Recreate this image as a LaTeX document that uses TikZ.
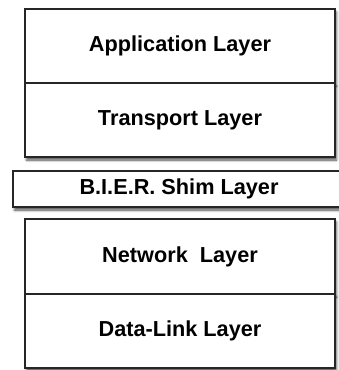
\documentclass[tikz,border=0pt]{standalone}
\usepackage{fontspec}
\setmainfont{Liberation Sans}
\usetikzlibrary{shadows.blur}

\begin{document}
\begin{tikzpicture}[x=1pt, y=-1pt]

    % --- Styles ---
    \tikzset{
        layer/.style={draw=black!85, line width=1.2pt, fill=white, minimum width=310pt, minimum height=74pt, inner sep=0pt,
            font=\fontsize{21.7}{26}\selectfont\bfseries,
            blur shadow={shadow xshift=1.5pt, shadow yshift=-3pt, shadow blur radius=2.5pt, shadow opacity=70}},
        shimlayer/.style={layer, minimum width=332pt, minimum height=36pt}
    }

    \useasboundingbox (0,0) rectangle (338,370);

    % --- Obere Schichten ---
    \node[layer] (app) at (180,46) {Application Layer};
    \node[layer] (transport) at (180,120) {Transport Layer};

    % --- Shim ---
    \node[shimlayer] (shim) at (179,189) {B.I.E.R. Shim Layer};

    % --- Untere Schichten ---
    \node[layer, minimum height=75pt] (network) at (180,256.5) {Network~~Layer};
    \node[layer] (datalink) at (180,331) {Data-Link Layer};

\end{tikzpicture}
\end{document}
